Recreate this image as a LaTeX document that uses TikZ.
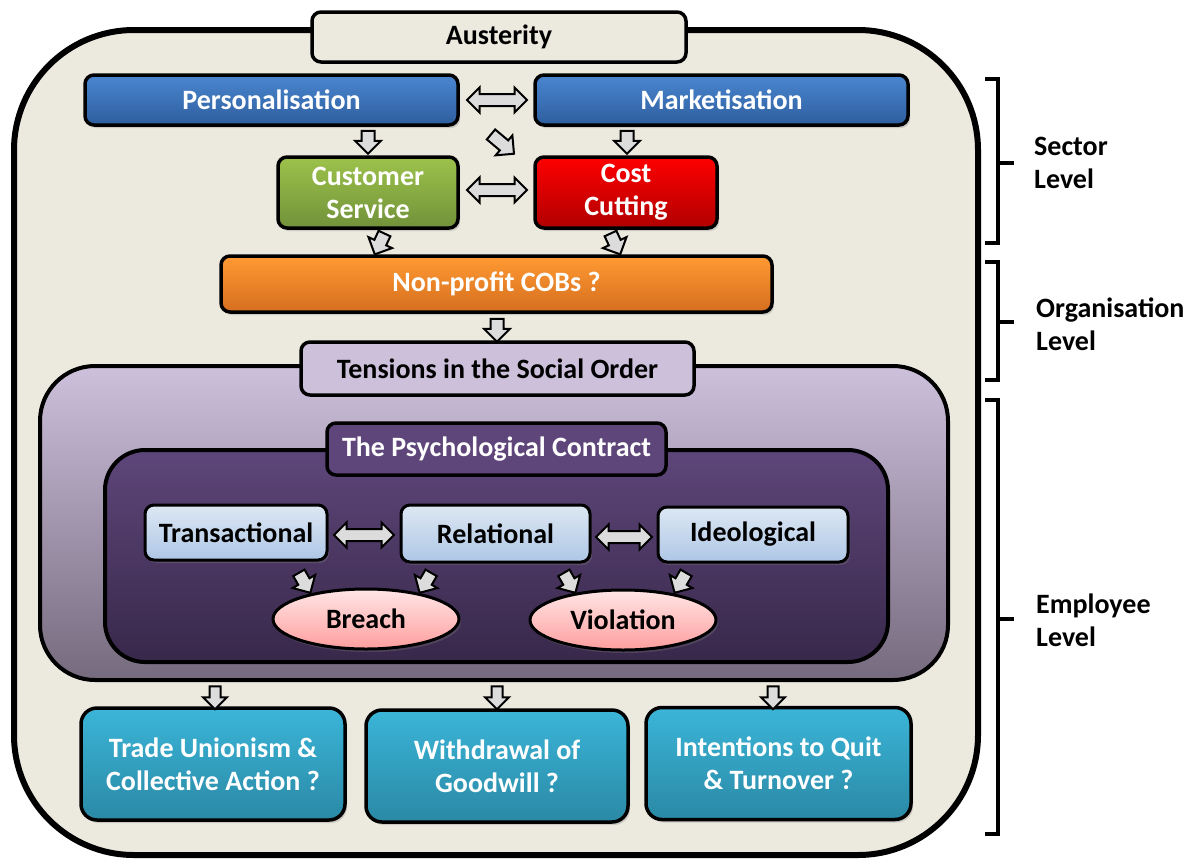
\documentclass[tikz,border=0pt]{standalone}
\usepackage{fontspec}
\setmainfont{Carlito}
\usetikzlibrary{shapes.arrows,shapes.geometric,shadows}
\definecolor{beige}{HTML}{ECEADF}
\definecolor{blueT}{HTML}{4A86D0}
\definecolor{blueB}{HTML}{2E5E9E}
\definecolor{greenT}{HTML}{9DC24B}
\definecolor{greenB}{HTML}{72923A}
\definecolor{redT}{HTML}{FF0000}
\definecolor{redB}{HTML}{B00000}
\definecolor{orangeT}{HTML}{FF9A33}
\definecolor{orangeB}{HTML}{D56E1E}
\definecolor{lavT}{HTML}{CDC0DC}
\definecolor{lavB}{HTML}{766A7E}
\definecolor{lavfill}{HTML}{CCC0DA}
\definecolor{psychT}{HTML}{5E467A}
\definecolor{psychB}{HTML}{38284A}
\definecolor{ltblueT}{HTML}{DDE7F3}
\definecolor{ltblueB}{HTML}{AEC7E6}
\definecolor{pinkT}{HTML}{FFE6E6}
\definecolor{pinkB}{HTML}{FF9E9E}
\definecolor{tealT}{HTML}{3BB5D8}
\definecolor{tealB}{HTML}{2A89A5}
\definecolor{arrowgray}{HTML}{DCDCDC}
\begin{document}
\begin{tikzpicture}[x=1pt,y=-1pt,
  box/.style={draw=black, line width=3.5pt, rounded corners=9pt, inner sep=0pt, align=center,
    font=\fontsize{28}{33}\selectfont\bfseries},
  shad/.style={drop shadow={opacity=0.3, shadow xshift=2pt, shadow yshift=-3pt}},
  grad/.style 2 args={top color=#1, bottom color=#2},
  sarrow/.style={single arrow, draw=black, fill=arrowgray, line width=2pt, inner sep=0pt,
    inner ysep=5.5pt, single arrow head extend=6.5pt, minimum height=23pt},
  darrow/.style={double arrow, draw=black, fill=arrowgray, line width=2pt, inner sep=0pt,
    inner ysep=5pt, double arrow head extend=6.5pt, minimum height=60pt},
  brk/.style={line width=4pt},
  lvl/.style={anchor=west, align=left, inner sep=0pt, font=\fontsize{28}{33}\selectfont\bfseries},
]
\useasboundingbox (0,0) rectangle (1202,860);

% outer frame
\node[box, line width=6pt, rounded corners=120pt, fill=beige, minimum width=964pt, minimum height=825pt] (outer) at (496,442.5) {};
\node[box, fill=beige, minimum width=374pt, minimum height=50pt] (aust) at (499,37) {Austerity};

% sector level
\node[box, shad, grad={blueT}{blueB}, text=white, minimum width=373pt, minimum height=50pt] (pers) at (271.5,100) {Personalisation};
\node[box, shad, grad={blueT}{blueB}, text=white, minimum width=373pt, minimum height=50pt] (mark) at (721.5,100) {Marketisation};
\node[box, shad, grad={greenT}{greenB}, text=white, minimum width=180pt, minimum height=71pt] (cust) at (368,192.5) {Customer\\Service};
\node[box, shad, grad={redT}{redB}, text=white, minimum width=182pt, minimum height=71pt] (cost) at (626,192.5) {Cost\\Cutting};
\node[box, shad, grad={orangeT}{orangeB}, text=white, minimum width=551pt, minimum height=56pt] (nonp) at (496.5,284) {Non-profit COBs ?};

% employee level group
\node[box, line width=4pt, rounded corners=55pt, grad={lavT}{lavB}, minimum width=908pt, minimum height=314pt] (emp) at (494,523) {};
\node[box, fill=lavfill, minimum width=393pt, minimum height=53pt] (tens) at (497.5,368.5) {Tensions in the Social Order};
\node[box, line width=4pt, rounded corners=40pt, grad={psychT}{psychB}, minimum width=783pt, minimum height=212pt] (inner) at (496.5,556) {};
\node[box, fill=psychT, text=white, minimum width=339pt, minimum height=52pt] (psych) at (496.5,449) {The Psychological Contract};

\node[box, line width=3pt, shad, grad={ltblueT}{ltblueB}, minimum width=182pt, minimum height=55pt] (trans) at (236,532.5) {Transactional};
\node[box, line width=3pt, shad, grad={ltblueT}{ltblueB}, minimum width=189pt, minimum height=57pt] (rel) at (495.5,533.5) {Relational};
\node[box, line width=3pt, shad, grad={ltblueT}{ltblueB}, minimum width=190pt, minimum height=55pt] (ideo) at (753,534.5) {Ideological};
\node[box, ellipse, line width=3pt, shad, grad={pinkT}{pinkB}, minimum width=186pt, minimum height=60pt] (breach) at (366,619) {Breach};
\node[box, ellipse, line width=3pt, shad, grad={pinkT}{pinkB}, minimum width=186pt, minimum height=60pt] (viol) at (623,620) {Violation};

% outcomes
\node[box, rounded corners=16pt, shad, grad={tealT}{tealB}, text=white, minimum width=264pt, minimum height=112pt] (trade) at (213,764) {Trade Unionism \&\\Collective Action ?};
\node[box, rounded corners=16pt, shad, grad={tealT}{tealB}, text=white, minimum width=262pt, minimum height=112pt] (withd) at (497,766) {Withdrawal of\\Goodwill ?};
\node[box, rounded corners=16pt, shad, grad={tealT}{tealB}, text=white, minimum width=265pt, minimum height=112pt] (quit) at (778.5,763.5) {Intentions to Quit\\\& Turnover ?};

% block arrows
\node[darrow] (dpm) at (497,100) {};
\node[darrow] (dcc) at (497,190) {};
\node[darrow, minimum height=60pt] (dtr) at (364,535) {};
\node[darrow, minimum height=56pt] (dri) at (624,537) {};
\node[sarrow, rotate=-90] (apc) at (368,139) {};
\node[sarrow, rotate=-90] (amc) at (627,139) {};
\node[sarrow, rotate=-40, minimum height=30pt] (apx) at (500,142) {};
\node[sarrow, rotate=-115] (acn) at (381,241) {};
\node[sarrow, rotate=-65] (akn) at (614,241) {};
\node[sarrow, rotate=-90] (ant) at (497,327) {};
\node[sarrow, rotate=-60] (atb) at (303,580) {};
\node[sarrow, rotate=-120] (arb) at (427,580) {};
\node[sarrow, rotate=-60] (arv) at (568,580) {};
\node[sarrow, rotate=-120] (aiv) at (682,580) {};
\node[sarrow, rotate=-90, inner ysep=4.5pt] (ao1) at (215,695) {};
\node[sarrow, rotate=-90, inner ysep=4.5pt] (ao2) at (497,695) {};
\node[sarrow, rotate=-90, inner ysep=4.5pt] (ao3) at (773,695) {};

% level brackets
\draw[brk] (985,79) -- (998,79) -- (998,243) -- (985,243);
\draw[brk] (998,163) -- (1014,163);
\draw[brk] (985,262) -- (998,262) -- (998,380) -- (985,380);
\draw[brk] (998,322) -- (1014,322);
\draw[brk] (985,400) -- (998,400) -- (998,834) -- (985,834);
\draw[brk] (998,619) -- (1014,619);
\node[lvl] (lsec) at (1034,163) {Sector\\Level};
\node[lvl] (lorg) at (1036,324) {Organisation\\Level};
\node[lvl] (lemp) at (1036,620) {Employee\\Level};
\end{tikzpicture}
\end{document}
